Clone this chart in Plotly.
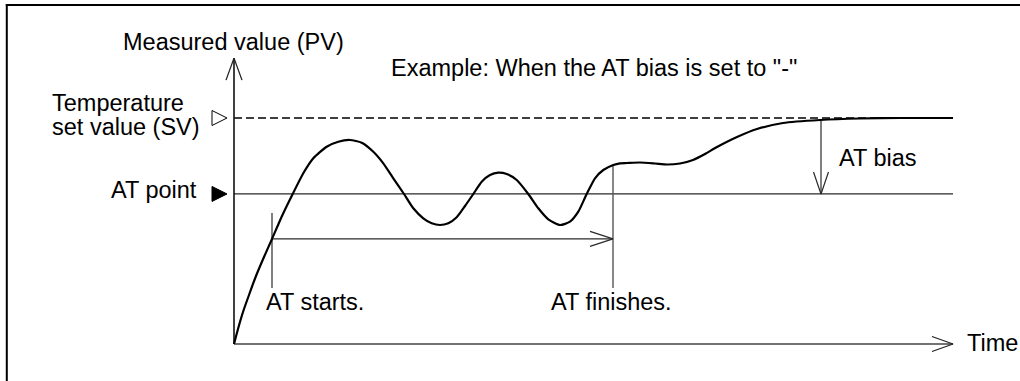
import plotly.graph_objects as go

# ---------------- data (time in arbitrary units, PV in % of SV) ----------------
curve_t = [0.0, 0.4, 0.9, 1.5, 2.2, 3.0, 3.8, 4.8, 5.87, 6.93, 7.93, 9.27,
           10.43, 11.6, 12.77, 13.93, 14.93, 15.93, 17.0, 17.93, 18.93, 19.77,
           20.6, 21.43, 22.27, 23.1, 23.93, 24.77, 25.6, 26.43, 27.27, 28.27,
           29.43, 30.43, 31.43, 32.6, 33.6, 34.43, 35.27, 36.1, 36.93, 37.93,
           38.6, 39.3, 40.6, 42.1, 43.3, 44.6, 45.9, 47.1, 48.3, 50.3, 52.3,
           54.9, 58.6, 62.6, 66.6, 71.9]
curve_pv = [0.0, 6.64, 14.16, 21.68, 30.09, 38.50, 46.46, 56.64, 66.37, 75.53,
            82.17, 87.30, 89.51, 90.27, 89.07, 85.09, 79.96, 73.32, 66.37,
            60.04, 55.62, 53.41, 52.65, 53.41, 56.06, 61.06, 66.37, 71.81,
            74.78, 75.80, 75.22, 72.57, 66.37, 60.04, 55.18, 52.65, 54.12,
            58.54, 66.37, 73.32, 76.99, 79.20, 79.96, 80.09, 80.31, 79.87,
            79.42, 79.87, 81.42, 84.07, 87.17, 91.59, 95.13, 97.79, 99.12,
            99.78, 100.0, 100.0]

SV = 100.0            # temperature set value
AT_POINT = 66.4       # AT point (SV + negative AT bias)
T_END = 71.9          # end of the time axis
PV_TOP = 126.5        # top of the PV axis
AT_START_T = 3.8      # AT starts
AT_FINISH_T = 37.9    # AT finishes
AT_RUN_PV = 46.5      # level of the AT-running arrow
AT_START_TOP = 58.0
AT_FINISH_TOP = 79.2
TICK_BOTTOM = 24.8
AT_BIAS_T = 58.7
AT_BIAS_TOP = 99.1
MARKER_TIP_T = -0.7

label_pv_axis = "Measured value (PV)"
label_example = 'Example: When the AT bias is set to "-"'
label_sv = ["Temperature", "set value (SV)"]
label_at_point = "AT point"
label_bias = "AT bias"
label_start = "AT starts."
label_finish = "AT finishes."
label_time = "Time"

# ---------------- scales ----------------
W, H = 1020, 381
XS = 10.0     # px per time unit
YS = 2.26     # px per PV unit
X0_PX, Y0_PX = 234.0, 344.0
x_range = [-X0_PX / XS, (W - X0_PX) / XS]
y_range = [-(H - Y0_PX) / YS, Y0_PX / YS]

FONT = "Liberation Sans, Arial, Helvetica, sans-serif"
FS = 23.5
INK = "#000000"
THIN = "#2a2a2a"


def head(tx, ty, direction, length=22.0, half=7.5):
    if direction == "up":
        return [tx - half / XS, tx, tx + half / XS], [ty - length / YS, ty, ty - length / YS]
    if direction == "down":
        return [tx - half / XS, tx, tx + half / XS], [ty + length / YS, ty, ty + length / YS]
    if direction == "right":
        return [tx - length / XS, tx, tx - length / XS], [ty + half / YS, ty, ty - half / YS]


fig = go.Figure()


def add_line(xs, ys, color=THIN, width=1.2, dash=None):
    fig.add_trace(go.Scatter(x=xs, y=ys, mode="lines",
                             line=dict(color=color, width=width, dash=dash),
                             hoverinfo="skip", showlegend=False))


# reference lines
add_line([0, T_END], [SV, SV], color=INK, width=1.5, dash="8px,4px")
add_line([0, T_END], [AT_POINT, AT_POINT], width=1.2)

# axes with open arrowheads
add_line([0, 0], [0, PV_TOP], color="#111111", width=1.6)
hx, hy = head(0, PV_TOP, "up", 22, 8)
add_line(hx, hy, color="#222222", width=1.3)
add_line([0, T_END], [0, 0], color="#444444", width=1.6)
hx, hy = head(T_END, 0, "right", 21, 7.5)
add_line(hx, hy, color="#222222", width=1.3)

# AT start / finish markers and the running arrow
add_line([AT_START_T, AT_START_T], [TICK_BOTTOM, AT_START_TOP], width=1.2)
add_line([AT_FINISH_T, AT_FINISH_T], [TICK_BOTTOM, AT_FINISH_TOP], color="#555555", width=1.4)
add_line([AT_START_T, AT_FINISH_T], [AT_RUN_PV, AT_RUN_PV], width=1.2)
hx, hy = head(AT_FINISH_T, AT_RUN_PV, "right", 23, 7.5)
add_line(hx, hy, width=1.2)

# AT bias arrow
add_line([AT_BIAS_T, AT_BIAS_T], [AT_BIAS_TOP, AT_POINT], width=1.2)
hx, hy = head(AT_BIAS_T, AT_POINT, "down", 22, 7.5)
add_line(hx, hy, width=1.2)

# PV curve
fig.add_trace(go.Scatter(x=curve_t, y=curve_pv, mode="lines",
                         line=dict(color=INK, width=2.2, shape="spline", smoothing=0.6),
                         hoverinfo="skip", showlegend=False))


# triangle markers on the PV axis (drawn as polygons: 15 px wide, 15 px tall)
def tri(tip_t, level):
    w, h = 15.0, 15.0
    return ([tip_t - w / XS, tip_t, tip_t - w / XS, tip_t - w / XS],
            [level + h / 2 / YS, level, level - h / 2 / YS, level + h / 2 / YS])


tx, ty = tri(MARKER_TIP_T, SV)
fig.add_trace(go.Scatter(x=tx, y=ty, mode="lines", line=dict(color=INK, width=1),
                         hoverinfo="skip", showlegend=False))
tx, ty = tri(MARKER_TIP_T, AT_POINT)
fig.add_trace(go.Scatter(x=tx, y=ty, mode="lines", fill="toself", fillcolor=INK,
                         line=dict(color=INK, width=1),
                         hoverinfo="skip", showlegend=False))


def px_t(px):
    return (px - X0_PX) / XS


def py_pv(py):
    return (Y0_PX - py) / YS


def note(text, t, pv, xanchor="left"):
    fig.add_annotation(x=t, y=pv, text=text, showarrow=False, xanchor=xanchor,
                       yanchor="middle", borderpad=0, borderwidth=0,
                       font=dict(family=FONT, size=FS, color=INK))


note(label_pv_axis, px_t(233), py_pv(41.5), "center")
note(label_example, px_t(391), py_pv(67.5))
note(label_sv[0], px_t(52), py_pv(103.4))
note(label_sv[1], px_t(52), py_pv(127))
note(label_at_point, px_t(197), py_pv(190), "right")
note(label_bias, px_t(839), py_pv(158))
note(label_start, px_t(266), py_pv(301.7))
note(label_finish, px_t(551), py_pv(301.7))
note(label_time, px_t(967), py_pv(342.5))

# frame (left and top edges visible)
fig.add_shape(type="line", xref="paper", yref="paper",
              x0=6.8 / W, x1=6.8 / W, y0=0, y1=1 - 4.2 / H,
              line=dict(color=INK, width=2))
fig.add_shape(type="line", xref="paper", yref="paper",
              x0=5.8 / W, x1=1, y0=1 - 5 / H, y1=1 - 5 / H,
              line=dict(color=INK, width=2))

fig.update_layout(
    width=W, height=H, autosize=False,
    margin=dict(l=0, r=0, t=0, b=0, pad=0),
    paper_bgcolor="white", plot_bgcolor="white",
    xaxis=dict(range=x_range, visible=False, fixedrange=True),
    yaxis=dict(range=y_range, visible=False, fixedrange=True),
    showlegend=False,
)

fig.write_html("out.html", config={"displayModeBar": False, "staticPlot": True},
               post_script="document.body.style.margin='0';document.body.style.overflow='hidden';")
